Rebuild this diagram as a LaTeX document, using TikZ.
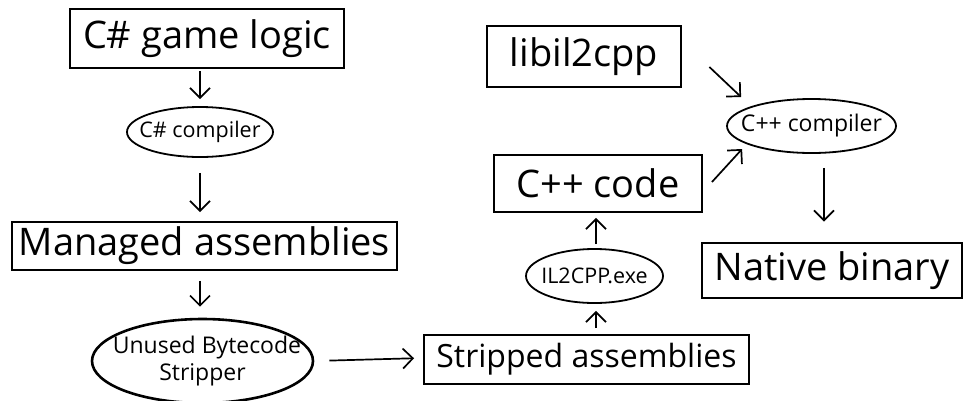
\documentclass[tikz,border=0pt]{standalone}
\usepackage{fontspec}
\setmainfont{Open Sans}
\usetikzlibrary{positioning}
\usetikzlibrary{shapes.geometric}
\usetikzlibrary{arrows.meta}
\tikzset{box/.style={draw,line width=2.2pt,inner sep=0pt,font=\fontsize{38}{44}\selectfont}}
\tikzset{oval/.style={draw,ellipse,line width=1.8pt,inner sep=0pt,font=\fontsize{21.5}{26}\selectfont}}
\tikzset{arr/.style={->,line width=1.7pt}}
\tikzset{>={Straight Barb[length=10pt,width=20pt]}}

\begin{document}
\begin{tikzpicture}[x=1pt,y=-1pt]
\useasboundingbox (0,0) rectangle (966,400);
\node[box,minimum width=274pt,minimum height=59pt] (Logic) at (207,38.5) {C\# game logic};
\node[oval,inner xsep=-10pt,minimum width=146pt,minimum height=50pt] (CsComp) at (200,132) {C\# compiler};
\node[box,line width=1.9pt,minimum width=385pt,minimum height=48pt] (Managed) at (204.5,246) {Managed assemblies};
\node[oval,inner xsep=-21.5pt,line width=2.6pt,minimum width=221pt,minimum height=84pt,align=center,font=\fontsize{23}{27}\selectfont] (Stripper) at (202.5,361) {\hspace{9pt}Unused Bytecode\\Stripper};
\node[box,line width=1.9pt,minimum width=325pt,minimum height=49pt,font=\fontsize{32}{38}\selectfont] (Stripped) at (586.5,359.5) {Stripped assemblies};
\node[oval,inner xsep=-6.5pt,minimum width=137pt,minimum height=54pt] (Il2cpp) at (594.5,276) {IL2CPP.exe};
\node[box,line width=1.9pt,minimum width=208pt,minimum height=57pt] (CppCode) at (598,183.5) {C++ code};
\node[box,line width=2.8pt,minimum width=194pt,minimum height=61pt] (Libil) at (584,56.5) {libil2cpp\hspace{6pt}};
\node[oval,inner xsep=-11.5pt,minimum width=169pt,minimum height=54pt,font=\fontsize{23}{27}\selectfont] (CppComp) at (811.5,126) {C++ compiler};
\node[box,line width=2.8pt,minimum width=260pt,minimum height=55pt] (Native) at (832,270.5) {Native binary};

\draw[arr,shorten <=2pt,shorten >=7pt] (CsComp |- Logic.south) -- (CsComp.north);
\draw[arr,shorten <=15pt,shorten >=9pt] (CsComp.south) -- (CsComp |- Managed.north);
\draw[arr,shorten <=10pt,shorten >=11pt] (CsComp |- Managed.south) -- (CsComp |- Stripper.north);
\draw[arr,shorten <=15pt,shorten >=9pt] (Stripper.east) -- ([yshift=1.5pt]Stripped.west);
\draw[arr,shorten <=6pt,shorten >=7pt] ([xshift=1.5pt]Il2cpp.south |- Stripped.north) -- ([xshift=1.5pt]Il2cpp.south);
\draw[arr,shorten <=4pt,shorten >=5pt] ([xshift=1.5pt]Il2cpp.north) -- ([xshift=1.5pt]Il2cpp.north |- CppCode.south);
\draw[arr] ([shift={(27,10.5)}]Libil.east) -- ([shift={(15,-29)}]CppComp.west);
\draw[arr] ([shift={(9,-1.5)}]CppCode.east) -- ([shift={(16,23)}]CppComp.west);
\draw[arr,shorten <=14pt,shorten >=20pt] ([xshift=12.5pt]CppComp.south) -- ([xshift=12.5pt]CppComp.south |- Native.north);
\end{tikzpicture}
\end{document}
